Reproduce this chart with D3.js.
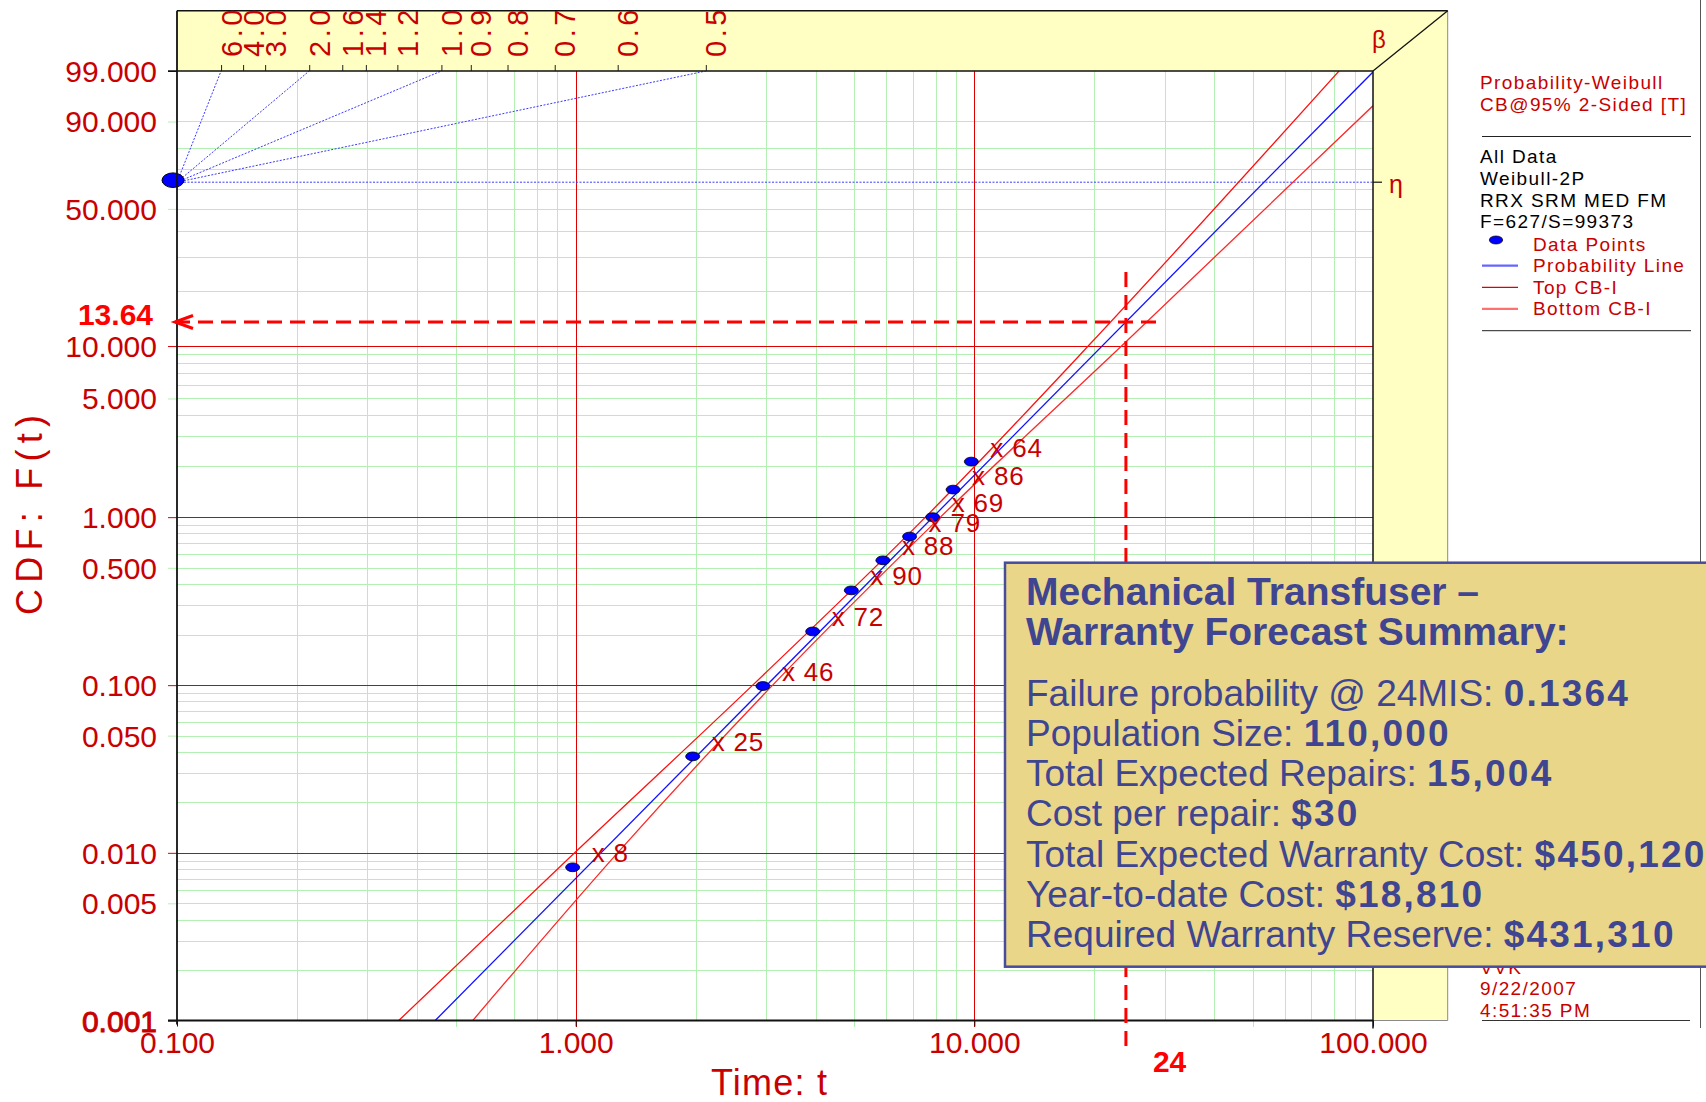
<!DOCTYPE html>
<html><head><meta charset="utf-8">
<script src="https://cdn.jsdelivr.net/npm/d3@7"></script>
<style>
html,body{margin:0;padding:0;background:#fff;}
svg{display:block;font-family:"Liberation Sans",Arial,sans-serif;}
</style></head><body>
<svg id="chart" width="1706" height="1102"></svg>
<script>
// Warranty returns: months in service, cumulative unreliability (%), failures per month
const monthsInService = [1, 2, 3, 4, 5, 6, 7, 8, 9, 10];
const unreliabilityPct = [0.0082, 0.0376, 0.0988, 0.209, 0.367, 0.554, 0.767, 1.00, 1.457, 2.133];
const failuresPerMonth = [8, 25, 46, 72, 90, 88, 79, 69, 86, 64];

// Weibull-2P fit parameters
const weibullBeta = 2.405;
const weibullEta = 53.3;

// 95% two-sided confidence bounds: time / unreliability (%)
const topBoundTime = [0.36, 0.994, 2.78, 7.54, 19.3, 82.2];
const topBoundPct = [0.001, 0.01, 0.1, 1, 10, 99];
const bottomBoundTime = [0.552, 1.274, 3.12, 8.22, 23.4, 100];
const bottomBoundPct = [0.001, 0.01, 0.1, 1, 10, 94.25];

// forecast read-off at 24 months in service
const forecastTime = 24;
const forecastPct = 13.64;

const xTickValues = [0.1, 1, 10, 100];
const yTickValues = [99, 90, 50, 10, 5, 1, 0.5, 0.1, 0.05, 0.01, 0.005, 0.001];
const betaTickValues = [6, 4, 3, 2, 1.6, 1.4, 1.2, 1, 0.9, 0.8, 0.7, 0.6, 0.5];
const betaRayValues = [6, 2, 1, 0.5];

const legendHeader = ["Probability-Weibull", "CB@95% 2-Sided [T]"];
const legendInfo = ["All Data", "Weibull-2P", "RRX SRM MED FM", "F=627/S=99373"];
const legendItems = ["Data Points", "Probability Line", "Top CB-I", "Bottom CB-I"];
const stampLines = ["VVK", "9/22/2007", "4:51:35 PM"];

const summaryTitle = ["Mechanical Transfuser \u2013", "Warranty Forecast Summary:"];
const summaryLabels = ["Failure probability @ 24MIS: ", "Population Size: ", "Total Expected Repairs: ",
  "Cost per repair: ", "Total Expected Warranty Cost: ", "Year-to-date Cost: ", "Required Warranty Reserve: "];
const summaryValues = ["0.1364", "110,000", "15,004", "$30", "$450,120", "$18,810", "$431,310"];

// ---------------------------------------------------------------- layout
const plot = { left: 177, right: 1373, top: 71, bottom: 1020.5 };
const frame = { top: 10.7, right: 1447.7 };
const RED_TEXT = "#c80000";
const GRID_GREEN = "#b4f0b4";
const GRID_RED = "#dd0000";

// Weibull probability paper: y is linear in ln(-ln(1-F))
const weib = p => Math.log(-Math.log(1 - p / 100));
const unweib = v => 100 * (1 - Math.exp(-Math.exp(v)));
const x = d3.scaleLog().domain([0.1, 100]).range([plot.left, plot.right]);
const yT = d3.scaleLinear().domain([weib(0.001), weib(99)]).range([plot.bottom, plot.top]);
const y = p => yT(weib(p));

const svg = d3.select("#chart");
svg.append("rect").attr("width", 1706).attr("height", 1102).attr("fill", "#fff");

// yellow frame (top band + right band)
svg.append("path")
  .attr("d", `M${plot.left},${frame.top}H${frame.right}V${plot.bottom}H${plot.right}V${plot.top}H${plot.left}Z`)
  .attr("fill", "#ffffc4");
svg.append("path")
  .attr("d", `M${frame.right},${frame.top}V${plot.bottom}H${plot.right}`)
  .attr("fill", "none").attr("stroke", "#8a8a8a").attr("stroke-width", 1);
svg.append("line")
  .attr("x1", plot.left).attr("x2", frame.right).attr("y1", frame.top).attr("y2", frame.top)
  .attr("stroke", "#111").attr("stroke-width", 1.5);
svg.append("line")
  .attr("x1", plot.right).attr("y1", plot.top).attr("x2", frame.right).attr("y2", frame.top)
  .attr("stroke", "#111").attr("stroke-width", 1.3);

// ---------------------------------------------------------------- grid
const minorX = [];
[0.1, 1, 10].forEach(d => { for (let k = 2; k <= 9; k++) minorX.push(+(d * k).toPrecision(3)); });
const majorX = [1, 10];
const minorY = [];
[0.001, 0.01, 0.1, 1, 10].forEach(d => { for (let k = 2; k <= 9; k++) minorY.push(+(d * k).toPrecision(3)); });
const majorY = [0.01, 0.1, 1, 10];

const grid = svg.append("g").attr("shape-rendering", "crispEdges");
grid.selectAll(".gx").data(minorX).join("line")
  .attr("x1", d => Math.round(x(d)) + 0.5).attr("x2", d => Math.round(x(d)) + 0.5)
  .attr("y1", plot.top).attr("y2", plot.bottom)
  .attr("stroke", GRID_GREEN).attr("stroke-width", 1);
grid.selectAll(".gy").data(minorY).join("line")
  .attr("y1", d => Math.round(y(d)) + 0.5).attr("y2", d => Math.round(y(d)) + 0.5)
  .attr("x1", plot.left).attr("x2", plot.right)
  .attr("stroke", GRID_GREEN).attr("stroke-width", 1.4);
grid.selectAll(".rx").data(majorX).join("line")
  .attr("x1", d => Math.round(x(d)) + 0.5).attr("x2", d => Math.round(x(d)) + 0.5)
  .attr("y1", plot.top).attr("y2", plot.bottom + 6)
  .attr("stroke", GRID_RED).attr("stroke-width", 1);
grid.selectAll(".ry").data(majorY).join("line")
  .attr("y1", d => Math.round(y(d)) + 0.5).attr("y2", d => Math.round(y(d)) + 0.5)
  .attr("x1", plot.left).attr("x2", plot.right)
  .attr("stroke", GRID_RED).attr("stroke-width", 1);
// short tick stubs below the axis for the half-decade lines
grid.selectAll(".hx").data([0.5, 5, 50]).join("line")
  .attr("x1", d => Math.round(x(d)) + 0.5).attr("x2", d => Math.round(x(d)) + 0.5)
  .attr("y1", plot.bottom).attr("y2", plot.bottom + 6)
  .attr("stroke", GRID_GREEN).attr("stroke-width", 1);

// ---------------------------------------------------------------- plot content
svg.append("clipPath").attr("id", "plotClip").append("rect")
  .attr("x", plot.left).attr("y", plot.top)
  .attr("width", plot.right - plot.left).attr("height", plot.bottom - plot.top);
const content = svg.append("g").attr("clip-path", "url(#plotClip)");

const curveLine = d3.line().x(d => x(d[0])).y(d => y(d[1])).curve(d3.curveMonotoneX);

// eta / beta construction from the pivot at (0.1, 63.2%)
const etaPct = 100 * (1 - Math.exp(-1));
const pivot = [x(0.1), y(etaPct)];
const vTop = weib(99);
const betaToTime = b => 0.1 * Math.exp(vTop / b);

content.selectAll(".ray").data(betaRayValues).join("line")
  .attr("x1", pivot[0]).attr("y1", pivot[1])
  .attr("x2", b => x(betaToTime(b))).attr("y2", plot.top)
  .attr("stroke", "#3a3aff").attr("stroke-width", 1).attr("stroke-dasharray", "2,1.5");
content.append("line")
  .attr("x1", pivot[0]).attr("y1", pivot[1]).attr("x2", plot.right).attr("y2", pivot[1])
  .attr("stroke", "#3a3aff").attr("stroke-width", 1).attr("stroke-dasharray", "2,1.5");

// confidence bounds
content.append("path")
  .attr("d", curveLine(d3.zip(topBoundTime, topBoundPct)))
  .attr("fill", "none").attr("stroke", "#ff1010").attr("stroke-width", 1.3);
content.append("path")
  .attr("d", curveLine(d3.zip(bottomBoundTime, bottomBoundPct)))
  .attr("fill", "none").attr("stroke", "#ff2828").attr("stroke-width", 1.3);

// probability line from the fitted parameters
const lineEnds = [0.001, 99].map(p => [weibullEta * Math.pow(-Math.log(1 - p / 100), 1 / weibullBeta), p]);
content.append("path")
  .attr("d", d3.line().x(d => x(d[0])).y(d => y(d[1]))(lineEnds))
  .attr("fill", "none").attr("stroke", "#1010ff").attr("stroke-width", 1.3);

// data points
const points = monthsInService.map((t, i) => ({ t, p: unreliabilityPct[i], n: failuresPerMonth[i] }));
svg.append("g").selectAll("ellipse").data(points).join("ellipse")
  .attr("cx", d => x(d.t) - 3).attr("cy", d => y(d.p))
  .attr("rx", 7).attr("ry", 4.4)
  .attr("fill", "#0000ff").attr("stroke", "#000").attr("stroke-width", 0.8);
svg.append("g").selectAll("text").data(points).join("text")
  .attr("x", d => x(d.t) + 16).attr("y", d => y(d.p) - 5)
  .attr("font-size", 26).attr("letter-spacing", 0.8).attr("fill", RED_TEXT)
  .text(d => "x " + d.n);

// pivot marker
svg.append("ellipse")
  .attr("cx", pivot[0] - 4).attr("cy", pivot[1] - 2).attr("rx", 11).attr("ry", 7.3)
  .attr("fill", "#0000ff").attr("stroke", "#000").attr("stroke-width", 1);

// ---------------------------------------------------------------- axes
const yAxis = d3.axisLeft(yT)
  .tickValues(yTickValues.map(weib))
  .tickFormat(v => d3.format(".3f")(unweib(v)))
  .tickSizeInner(9).tickSizeOuter(0).tickPadding(11);
const gy = svg.append("g").attr("transform", `translate(${plot.left},0)`).call(yAxis);
gy.select(".domain").remove();
gy.selectAll(".tick line").attr("stroke", (v, i) => {
  const p = yTickValues[i];
  if (p === 99 || p === 0.001) return "#111";
  return majorY.includes(p) ? GRID_RED : GRID_GREEN;
});
gy.selectAll(".tick text").attr("font-size", 30).attr("fill", RED_TEXT).attr("dy", "0.35em")
  .attr("font-family", "Liberation Sans, Arial, sans-serif")
  .attr("stroke", (v, i) => yTickValues[i] === 0.001 ? RED_TEXT : null)
  .attr("stroke-width", (v, i) => yTickValues[i] === 0.001 ? 0.9 : null);

const xAxis = d3.axisBottom(x).tickValues(xTickValues).tickFormat(d3.format(".3f"))
  .tickSizeInner(6).tickSizeOuter(0).tickPadding(5);
const gx = svg.append("g").attr("transform", `translate(0,${plot.bottom})`).call(xAxis);
gx.select(".domain").remove();
gx.selectAll(".tick line").attr("stroke", "#111");
gx.selectAll(".tick text").attr("font-size", 30).attr("fill", RED_TEXT)
  .attr("font-family", "Liberation Sans, Arial, sans-serif");

// beta scale along the top edge
const betaAxis = d3.axisTop(x)
  .tickValues(betaTickValues.map(betaToTime))
  .tickFormat((t, i) => d3.format(".1f")(betaTickValues[i]))
  .tickSizeInner(6).tickSizeOuter(0);
const gb = svg.append("g").attr("transform", `translate(0,${plot.top})`).call(betaAxis);
gb.select(".domain").remove();
gb.selectAll(".tick line").attr("stroke", "#222");
gb.selectAll(".tick text")
  .attr("transform", "rotate(-90)").attr("text-anchor", "start")
  .attr("x", 14).attr("y", 20).attr("dy", 0)
  .attr("font-size", 29).attr("letter-spacing", 3.5).attr("fill", RED_TEXT)
  .attr("font-family", "Liberation Sans, Arial, sans-serif");

// plot frame
const frameG = svg.append("g");
frameG.append("line").attr("x1", plot.left).attr("x2", plot.left).attr("y1", frame.top).attr("y2", plot.bottom + 4)
  .attr("stroke", "#111").attr("stroke-width", 1.8);
frameG.append("line").attr("x1", plot.left - 9).attr("x2", plot.right).attr("y1", plot.top).attr("y2", plot.top)
  .attr("stroke", "#111").attr("stroke-width", 1.5);
frameG.append("line").attr("x1", plot.left - 9).attr("x2", plot.right).attr("y1", plot.bottom).attr("y2", plot.bottom)
  .attr("stroke", "#111").attr("stroke-width", 2.2);
frameG.append("line").attr("x1", plot.right).attr("x2", plot.right).attr("y1", plot.top).attr("y2", plot.bottom + 8)
  .attr("stroke", "#111").attr("stroke-width", 1.5);
// eta marker on the right edge
frameG.append("line").attr("x1", plot.right).attr("x2", plot.right + 9).attr("y1", pivot[1]).attr("y2", pivot[1])
  .attr("stroke", "#111").attr("stroke-width", 1.2);
svg.append("text").attr("x", plot.right + 16).attr("y", pivot[1] + 11)
  .attr("font-size", 25).attr("fill", RED_TEXT).text("\u03b7");
svg.append("text").attr("x", plot.right - 1).attr("y", 48)
  .attr("font-size", 24).attr("fill", RED_TEXT).text("\u03b2");

// axis titles
svg.append("text")
  .attr("transform", "translate(42,515) rotate(-90)")
  .attr("text-anchor", "middle").attr("font-size", 36).attr("fill", RED_TEXT)
  .attr("textLength", 200).attr("lengthAdjust", "spacing")
  .text("CDF: F(t)");
svg.append("text")
  .attr("x", 769).attr("y", 1095).attr("text-anchor", "middle")
  .attr("font-size", 36).attr("fill", RED_TEXT)
  .attr("textLength", 116).attr("lengthAdjust", "spacing")
  .text("Time: t");

// ---------------------------------------------------------------- forecast read-off
const fx = x(forecastTime), fy = y(forecastPct);
const ann = svg.append("g").attr("stroke", "#ff0000").attr("stroke-width", 3).attr("fill", "none");
ann.append("line").attr("x1", fx).attr("x2", fx).attr("y1", fy - 50).attr("y2", plot.bottom + 26)
  .attr("stroke-dasharray", "15,8");
ann.append("line").attr("x1", plot.left - 2).attr("x2", fx + 38).attr("y1", fy).attr("y2", fy)
  .attr("stroke-dasharray", "15,8");
ann.append("path")
  .attr("d", `M${plot.left + 16},${fy - 6.5}L${plot.left - 2},${fy}L${plot.left + 16},${fy + 6.5}`);
svg.append("text").attr("x", 153).attr("y", fy + 3).attr("text-anchor", "end")
  .attr("font-size", 30).attr("font-weight", "bold").attr("fill", "#ff0000")
  .text(d3.format(".2f")(forecastPct));
svg.append("text").attr("x", fx + 27).attr("y", 1072)
  .attr("font-size", 30).attr("font-weight", "bold").attr("fill", "#ff0000")
  .text(forecastTime);

// ---------------------------------------------------------------- legend panel
const lg = svg.append("g").attr("font-size", 19).attr("letter-spacing", 1.4);
const lgX = 1480;
lg.selectAll(".hdr").data(legendHeader).join("text")
  .attr("x", lgX).attr("y", (d, i) => 89.3 + i * 21.4).attr("fill", RED_TEXT).text(d => d);
lg.append("line").attr("x1", 1482).attr("x2", 1691).attr("y1", 136.5).attr("y2", 136.5)
  .attr("stroke", "#222").attr("stroke-width", 1);
lg.selectAll(".info").data(legendInfo).join("text")
  .attr("x", lgX).attr("y", (d, i) => 163.3 + i * 21.7).attr("fill", "#000").text(d => d);
lg.selectAll(".item").data(legendItems).join("text")
  .attr("x", 1533).attr("y", (d, i) => 250.7 + i * 21.4).attr("fill", RED_TEXT).text(d => d);
lg.append("ellipse").attr("cx", 1496).attr("cy", 240).attr("rx", 6.7).attr("ry", 4)
  .attr("fill", "#0000ff").attr("stroke", "#000").attr("stroke-width", 0.7);
const legendSwatches = [["#6666ff", 2.2], ["#e00000", 1.2], ["#ff7070", 2.2]];
lg.selectAll(".sw").data(legendSwatches).join("line")
  .attr("x1", 1482).attr("x2", 1518)
  .attr("y1", (d, i) => 265.7 + i * 21.6).attr("y2", (d, i) => 265.7 + i * 21.6)
  .attr("stroke", d => d[0]).attr("stroke-width", d => d[1]);
lg.append("line").attr("x1", 1482).attr("x2", 1691).attr("y1", 330.7).attr("y2", 330.7)
  .attr("stroke", "#222").attr("stroke-width", 1);
lg.selectAll(".stamp").data(stampLines).join("text")
  .attr("x", lgX).attr("y", (d, i) => 973.5 + i * 21.5).attr("fill", RED_TEXT).text(d => d);
lg.append("line").attr("x1", 1482).attr("x2", 1690).attr("y1", 1020.5).attr("y2", 1020.5)
  .attr("stroke", "#333").attr("stroke-width", 1.2);
svg.append("line").attr("x1", 1700.5).attr("x2", 1700.5).attr("y1", 0).attr("y2", 1028)
  .attr("stroke", "#555").attr("stroke-width", 1);

// ---------------------------------------------------------------- summary box
const box = svg.append("g");
box.append("rect").attr("x", 1005).attr("y", 562.7).attr("width", 760).attr("height", 404)
  .attr("fill", "#e9d689").attr("stroke", "#474c9c").attr("stroke-width", 2.5);
box.selectAll(".title").data(summaryTitle).join("text")
  .attr("x", 1026).attr("y", (d, i) => 605 + i * 40)
  .attr("font-size", 39).attr("font-weight", "bold").attr("fill", "#3f4590").text(d => d);
const rows = box.selectAll(".row").data(summaryLabels).join("text")
  .attr("x", 1026).attr("y", (d, i) => 705.7 + i * 40.2)
  .attr("font-size", 37).attr("fill", "#3f4590");
rows.append("tspan").text(d => d);
rows.append("tspan").attr("font-weight", "bold").attr("letter-spacing", 2.2)
  .text((d, i) => summaryValues[i]);
</script>
</body></html>
